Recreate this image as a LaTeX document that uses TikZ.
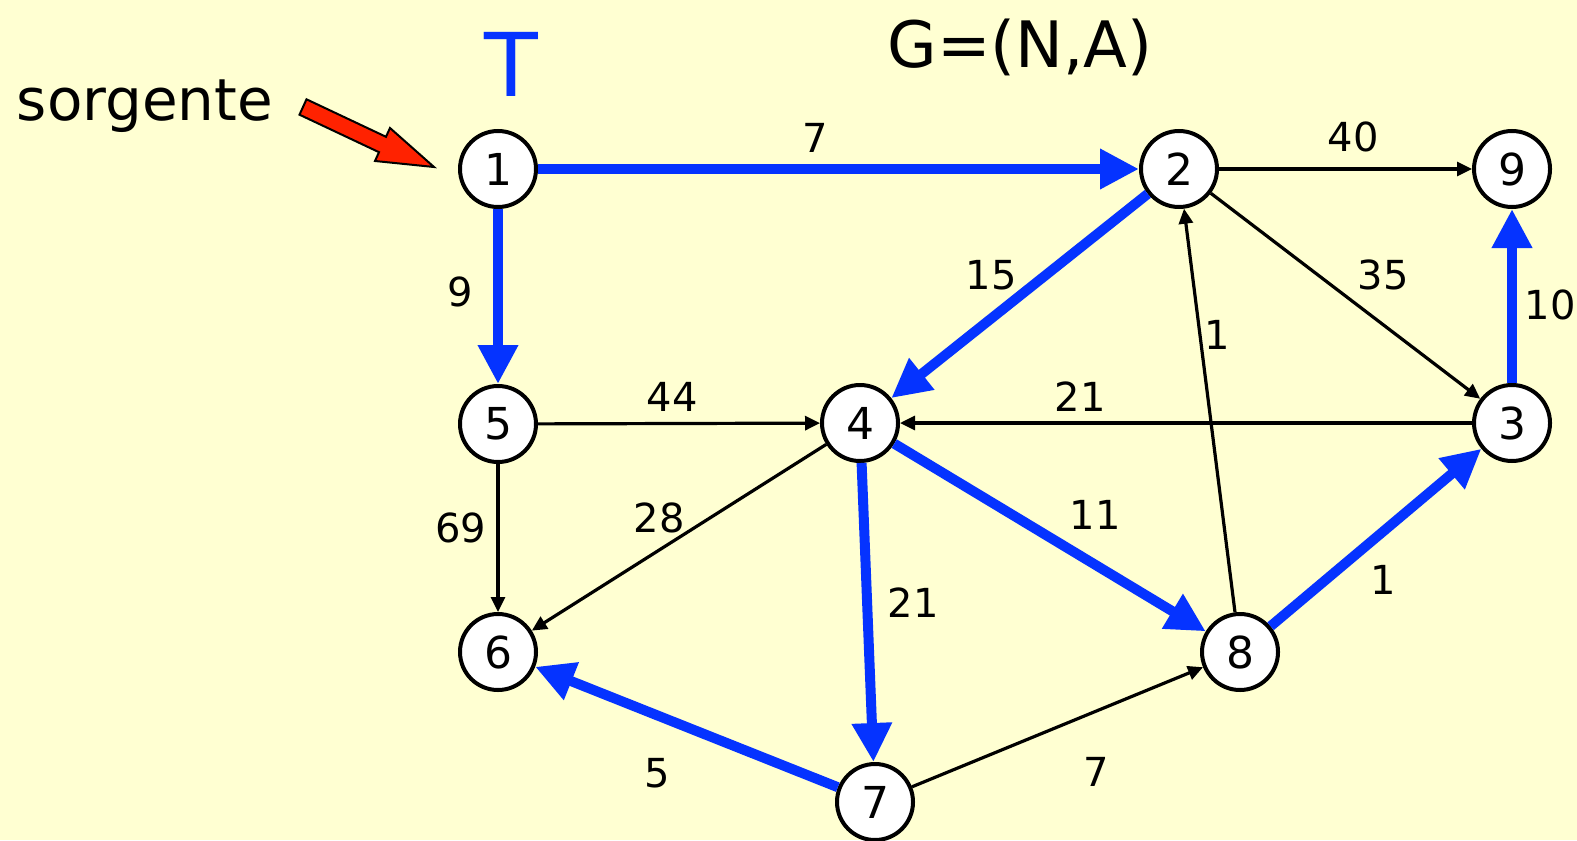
\documentclass[tikz,border=0pt]{standalone}
\usepackage{fontspec}
\setmainfont{DejaVu Sans}
\usetikzlibrary{arrows.meta}
\definecolor{sbg}{HTML}{FFFFD2}
\definecolor{sblue}{HTML}{0533FF}
\definecolor{sred}{HTML}{FF2200}
\tikzset{
  vtx/.style={
    circle, draw=black, fill=white, line width=2pt,
    minimum size=38pt, inner sep=0pt, font=\fontsize{22}{26}\selectfont
  },
  tree/.style={draw=sblue, line width=5pt, -{Triangle[length=19.5pt,width=19pt]}},
  arc/.style={draw=black, line width=1.6pt, -{Triangle[length=7.5pt,width=7pt]}},
  wlab/.style={font=\fontsize{20}{24}\selectfont, inner sep=0pt}
}

\begin{document}
\begin{tikzpicture}[x=0.5pt, y=-0.5pt]
  \fill[sbg] (0,0) rectangle (1577,840);
  \useasboundingbox (0,0) rectangle (1577,840);
  % titles
  \node[font=\fontsize{32}{38}\selectfont, anchor=base] (title) at (1020,68) {G=(N,A)};
  \node[font=\fontsize{44}{50}\selectfont, text=sblue, anchor=base] (tree) at (511,97) {T};
  \node[font=\fontsize{29}{34}\selectfont, anchor=base] (src) at (145,120) {sorgente};
  % fat red pointer to the source
  \filldraw[fill=sred, draw=black, line width=1pt, line join=miter]
    (306.5,99.3) -- (386,136.8) -- (390,128) -- (434,167)
    -- (375,161) -- (379,152.2) -- (299.5,114.7) -- cycle;
  % vertices
  \node[vtx] (n1) at (498,169) {1};
  \node[vtx] (n2) at (1179,169) {2};
  \node[vtx] (n9) at (1512,169) {9};
  \node[vtx] (n5) at (498,424) {5};
  \node[vtx] (n4) at (860,423) {4};
  \node[vtx] (n3) at (1512,423) {3};
  \node[vtx] (n6) at (498,652) {6};
  \node[vtx] (n8) at (1240,652) {8};
  \node[vtx] (n7) at (875,802) {7};
  % arcs not in the tree
  \draw[arc] (n2) -- (n9);
  \draw[arc] (n2) -- (n3);
  \draw[arc] (n8) -- (n2);
  \draw[arc] (n5) -- (n4);
  \draw[arc] (n3) -- (n4);
  \draw[arc] (n5) -- (n6);
  \draw[arc] (n4) -- (n6);
  \draw[arc] (n7) -- (n8);
  % shortest path tree
  \draw[tree] (n1) -- (n2);
  \draw[tree] (n1) -- (n5);
  \draw[tree] (n2) -- (n4);
  \draw[tree] (n4) -- (n8);
  \draw[tree] (n4) -- (n7);
  \draw[tree] (n8) -- (n3);
  \draw[tree] (n3) -- (n9);
  \draw[tree] (n7) -- (n6);
  % weights
  \node[wlab] (w12) at (815,138) {7};
  \node[wlab] (w29) at (1353,137) {40};
  \node[wlab] (w15) at (460,292) {9};
  \node[wlab] (w24) at (991,275) {15};
  \node[wlab] (w23) at (1383,275) {35};
  \node[wlab] (w82) at (1217,335) {1};
  \node[wlab] (w39) at (1550,305) {10};
  \node[wlab] (w54) at (672,397) {44};
  \node[wlab] (w34) at (1080,397) {21};
  \node[wlab] (w56) at (461,528) {69};
  \node[wlab] (w46) at (659,518) {28};
  \node[wlab] (w48) at (1095,515) {11};
  \node[wlab] (w47) at (913,603) {21};
  \node[wlab] (w83) at (1383,580) {1};
  \node[wlab] (w76) at (657,773) {5};
  \node[wlab] (w78) at (1096,772) {7};
\end{tikzpicture}
\end{document}
